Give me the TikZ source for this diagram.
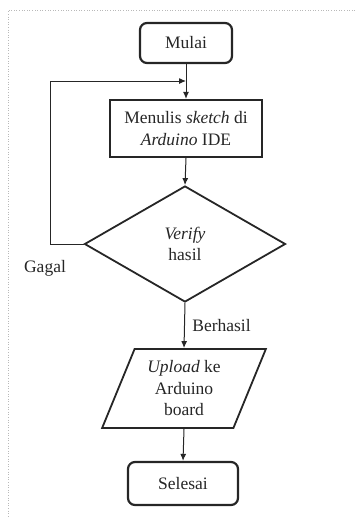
\documentclass[tikz,border=0pt]{standalone}
\usepackage{fontspec}
\setmainfont{Liberation Serif}
\usetikzlibrary{shapes.geometric, arrows.meta}

\tikzset{
    startstop/.style={draw, line width=2.2pt, rounded corners=7pt, minimum width=92pt, minimum height=40pt, align=center},
    process/.style={draw, line width=2.2pt, minimum width=152pt, minimum height=57pt, align=center},
    decision/.style={draw, line width=1.8pt, diamond, inner sep=0pt, minimum width=201pt, minimum height=116pt, align=center},
    io/.style={draw, line width=1.8pt, trapezium, trapezium left angle=67, trapezium right angle=113, trapezium stretches=true, minimum width=164pt, minimum height=79pt, align=center},
    arr/.style={-{Latex[length=7pt, width=6pt]}, line width=1pt},
    label/.style={font=\fontsize{17.5}{21}\selectfont}
}

\begin{document}
\begin{tikzpicture}[x=1pt, y=-1pt, font=\fontsize{17.5}{21.5}\selectfont, color=black!85]

        \useasboundingbox (0,0) rectangle (355,517);

        % Frame
        \draw [gray!55, dotted, line width=0.6pt] (355,10) -- (8,10) -- (8,517);

        % Steps
        \node[startstop] (mulai) at (186, 43){Mulai};
        \node[process] (menulis) at (186, 128.5){Menulis \textit{sketch} di\\\textit{Arduino} IDE};
        \node[decision] (verify) at (185, 244){\textit{Verify}\\hasil};
        \node[io] (upload) at (184, 388.5){\textit{Upload} ke\\Arduino\\board};
        \node[startstop, minimum width=110pt, minimum height=43pt] (selesai) at (183, 483.5){Selesai};

        % Loop back
        \coordinate (join) at (186, 81);
        \draw [arr] (verify.west) -- ++(-33, 0) |- (join);
        \node[label] (gagal) at (45, 268){Gagal};

        % Connectors
        \draw [arr] (mulai.south) -- (menulis.north);
        \draw [arr] (menulis.south) -- (verify.north);
        \draw [arr] (verify.south) -- (upload.north) node[midway, right=4pt, label] (berhasil){Berhasil};
        \draw [arr] (upload.south) -- (selesai.north);

    \end{tikzpicture}
\end{document}
